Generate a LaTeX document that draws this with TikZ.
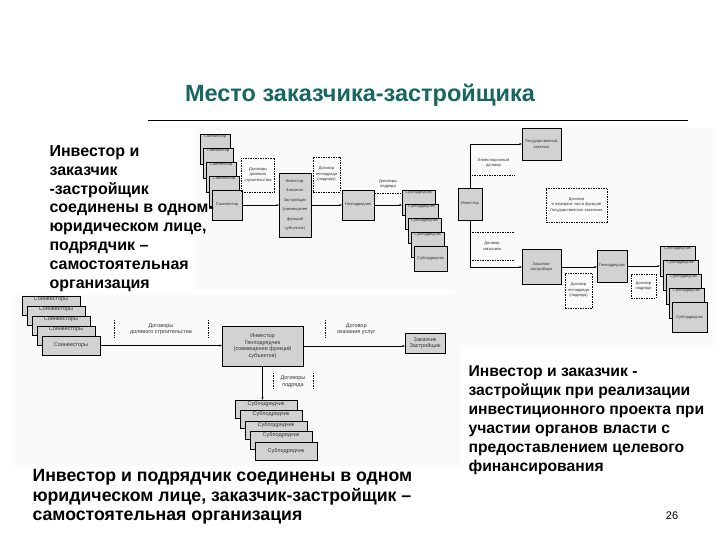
\documentclass[tikz,border=0pt]{standalone}
\usepackage{fontspec}
\setmainfont{Liberation Sans}
\usetikzlibrary{arrows.meta}
\definecolor{titleteal}{RGB}{22,102,98}

\begin{document}
\begin{tikzpicture}[x=1pt, y=-1pt,
    >={Stealth[length=2.5pt, width=2pt]},
    box/.style={draw, line width=0.4pt, fill=gray!35, inner sep=0.5pt, align=center, text=black!80},
    dbox/.style={draw, dash pattern=on 1.5pt off 1pt, line width=0.4pt, inner sep=0.5pt, align=center, text=black!80},
    dline/.style={dash pattern=on 1.5pt off 1pt, line width=0.4pt},
    tag/.style={inner sep=0.5pt, align=center, text=black!80},
    small/.style={font=\fontsize{4}{5.5}\selectfont},
    mid/.style={font=\fontsize{5.5}{6.5}\selectfont},
    pane/.style={fill=gray!4, draw=none}]
    \useasboundingbox (0,0) rectangle (720,540);

    % Title and rule
    \node[font=\fontsize{23.5}{27}\selectfont\bfseries, text=titleteal] (title) at (360,95) {Место заказчика-застройщика};
    \draw[line width=0.6pt] (148,120) -- (688,120);

    % Light panes of the three schemes
    \fill[pane] (195,128) rectangle (460,290);
    \fill[pane] (455,128) rectangle (715,345);
    \fill[pane] (15,295) rectangle (460,466);

    % Scheme 1: investor + customer-developer in one entity
    \foreach \i in {0,...,3}
        \node[box, minimum width=30pt, minimum height=30pt,
              label={[small, tag, anchor=north, inner sep=1pt]north:Соинвестор}] (ca\i) at ({215+3*\i},{149+14*\i}) {};
    \node[box, small, minimum width=30pt, minimum height=30pt] (ca4) at (227,205) {Соинвестор};
    \node[dbox, small, minimum width=33pt, minimum height=34pt] (dda) at (258,175) {Договоры\\долевого\\строительства};
    \node[box, font=\fontsize{4}{9.5}\selectfont, minimum width=32pt, minimum height=64pt] (ma) at (295,205) {Инвестор-\\Заказчик-\\Застройщик\\(совмещение\\функций\\субъектов)};
    \node[dbox, small, minimum width=27pt, minimum height=35pt] (dga) at (326.5,174.5) {Договор\\генподряда\\(подряда)};
    \node[box, small, minimum width=32pt, minimum height=30pt] (ga) at (358,205) {Генподрядчик};
    \node[tag, small, minimum width=26pt, minimum height=18pt] (dpa) at (388,184) {Договоры\\подряда};
    \draw[dline] (dpa.south west) -- (dpa.south east);
    \foreach \i in {0,...,3}
        \node[box, minimum width=33pt, minimum height=25pt,
              label={[small, tag, anchor=north, inner sep=1pt]north:Субподрядчик}] (sa\i) at ({418.5+3*\i},{202.5+14*\i}) {};
    \node[box, small, minimum width=33pt, minimum height=25pt] (sa4) at (430.5,258.5) {Субподрядчик};
    \draw[->] (ca4.east) -- (ca4.east -| ma.west);
    \draw[->] (ma.east) -- (ma.east -| ga.west);
    \draw[->] (ga.east) -- (ga.east -| sa0.west);

    % Scheme 2: participation of the authorities
    \node[box, small, minimum width=24pt, minimum height=32pt] (ib) at (470,204) {Инвестор};
    \node[box, small, minimum width=39pt, minimum height=32pt] (gzb) at (541.5,144) {Государственный\\заказчик};
    \node[tag, small, minimum width=43pt, minimum height=24pt] (idb) at (493.5,163) {Инвестиционный\\договор};
    \draw[dline] (idb.south west) -- (idb.south east);
    \node[dbox, small, minimum width=61pt, minimum height=34pt] (dpb) at (576.5,205) {Договор\\о передаче части функций\\Государственного заказчика};
    \node[tag, small, minimum width=44pt, minimum height=28pt] (dzb) at (492,246) {Договор\\заказчика};
    \draw[dline] (dzb.north west) -- (dzb.north east);
    \draw[dline] (dzb.south west) -- (dzb.south east);
    \node[box, small, minimum width=39pt, minimum height=35pt] (zb) at (541.5,267) {Заказчик-\\застройщик};
    \node[dbox, small, minimum width=27pt, minimum height=35pt] (dgb) at (578.5,290.5) {Договор\\генподряда\\(подряда)};
    \node[box, small, minimum width=30pt, minimum height=32pt] (gb) at (612,266) {Генподрядчик};
    \node[dbox, small, minimum width=25pt, minimum height=24pt] (dsb) at (643.5,286) {Договор\\подряда};
    \foreach \i in {0,...,3}
        \node[box, minimum width=35pt, minimum height=30pt,
              label={[small, tag, anchor=north, inner sep=1pt]north:Субподрядчик}] (sb\i) at ({677.5+3*\i},{261+14*\i}) {};
    \node[box, small, minimum width=35pt, minimum height=30pt] (sb4) at (689.5,317) {Субподрядчик};
    \draw[->] (ib.north) |- (gzb.west);
    \draw[->] (ib.south) |- (zb.west);
    \draw[->] (zb.east) -- (zb.east -| gb.west);
    \draw[->] (gb.east) -- (gb.east -| sb0.west);

    % Scheme 3: investor + contractor in one entity
    \foreach \i in {0,...,3}
        \node[box, minimum width=58pt, minimum height=19pt,
              label={[mid, tag, anchor=north, inner sep=1pt]north:Соинвесторы}] (cc\i) at ({51+5*\i},{305.5+10*\i}) {};
    \node[box, mid, minimum width=58pt, minimum height=19pt] (cc4) at (71,345.5) {Соинвесторы};
    \node[tag, mid, minimum width=94pt, minimum height=18pt] (ddc) at (161,329) {Договоры\\долевого строительства};
    \draw[dline] (ddc.north west) -- (ddc.south west);
    \draw[dline] (ddc.north east) -- (ddc.south east);
    \node[box, mid, minimum width=81pt, minimum height=40pt] (mc) at (262.5,346) {Инвестор\\Генподрядчик\\(совмещение функций\\субъектов)};
    \node[tag, mid, minimum width=62pt, minimum height=18pt, anchor=west] (duc) at (325,329) {Договор\\оказания услуг};
    \draw[dline] (duc.north west) -- (duc.south west);
    \node[box, mid, minimum width=40pt, minimum height=20pt] (zc) at (425,343) {Заказчик\\Застройщик};
    \node[tag, mid, minimum width=40pt, minimum height=17pt] (dpc) at (293,381.5) {Договоры\\подряда};
    \draw[dline] (dpc.north west) -- (dpc.south west);
    \draw[dline] (dpc.north east) -- (dpc.south east);
    \foreach \i in {0,...,3}
        \node[box, minimum width=62pt, minimum height=18pt,
              label={[mid, tag, anchor=north, inner sep=1pt]north:Субподрядчик}] (sc\i) at ({266+5*\i},{409+10.5*\i}) {};
    \node[box, mid, minimum width=62pt, minimum height=18pt] (sc4) at (286,451) {Субподрядчик};
    \draw[->] (cc4.east) -- (cc4.east -| mc.west);
    \draw[->] (mc.east) -- (mc.east -| zc.west);
    \draw[->] (mc.south) -- (mc.south |- sc0.north);

    % Captions
    \node[anchor=north west, align=left, font=\fontsize{16}{18.8}\selectfont\bfseries] (capa) at (46,142) {Инвестор и\\заказчик\\-застройщик\\соединены в одном-\\юридическом лице,\\подрядчик –\\самостоятельная\\организация};
    \node[anchor=north west, align=left, font=\fontsize{15.7}{19}\selectfont\bfseries] (capb) at (465,362) {Инвестор и заказчик -\\застройщик при реализации\\инвестиционного проекта при\\участии органов власти с\\предоставлением целевого\\финансирования};
    \node[anchor=north west, align=left, font=\fontsize{17.7}{19.3}\selectfont\bfseries] (capc) at (29,466) {Инвестор и подрядчик соединены в одном\\юридическом лице, заказчик-застройщик –\\самостоятельная организация};
    \node[font=\fontsize{11}{13}\selectfont] (page) at (672,516) {26};
\end{tikzpicture}
\end{document}
